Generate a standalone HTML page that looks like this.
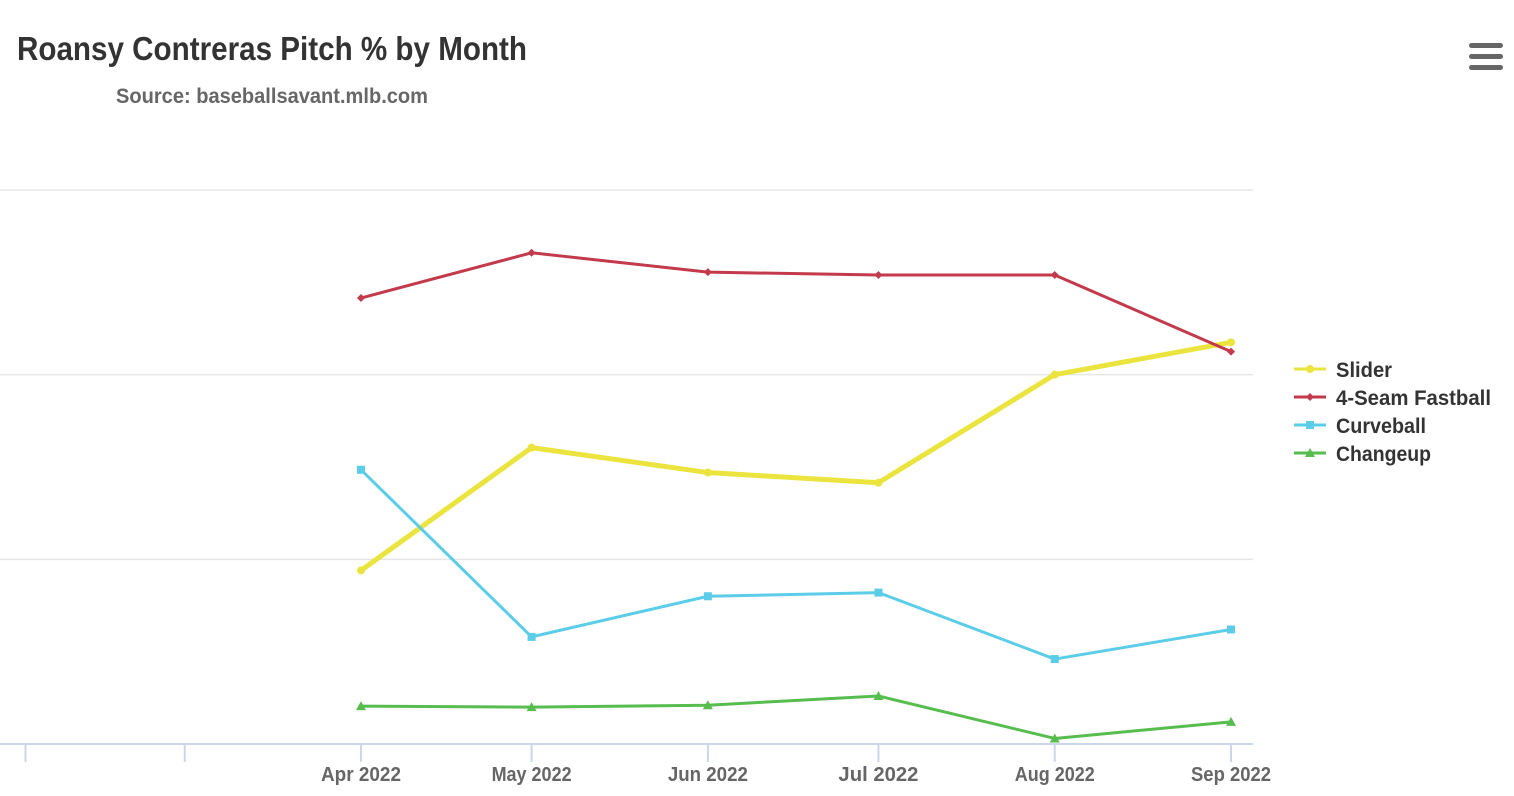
<!DOCTYPE html>
<html><head><meta charset="utf-8"><style>
html,body{margin:0;padding:0;background:#fff;width:1514px;height:796px;overflow:hidden}
svg{display:block}
text{font-family:"Liberation Sans Narrow","Liberation Sans",sans-serif;font-weight:bold}
</style></head><body>
<svg id="chart" width="1514" height="796">
<text x="17" y="60" font-size="33" fill="#333" textLength="510" lengthAdjust="spacingAndGlyphs">Roansy Contreras Pitch % by Month</text>
<text x="116" y="103" font-size="21" fill="#666" textLength="312" lengthAdjust="spacingAndGlyphs">Source: baseballsavant.mlb.com</text>
<g>
<rect x="1469" y="43" width="34" height="5" rx="2.5" fill="#666"/>
<rect x="1469" y="54" width="34" height="5" rx="2.5" fill="#666"/>
<rect x="1469" y="65" width="34" height="5" rx="2.5" fill="#666"/>
</g>
<g id="grid"></g><g id="axis"></g><g id="series"></g><g id="legend"></g>
</svg>
<script>
const months = ["Apr 2022","May 2022","Jun 2022","Jul 2022","Aug 2022","Sep 2022"];
const monthDays = [0,30,61,91,122,153]; // days since Apr 1
const extraTickDays = [-59,-31]; // Feb 1, Mar 1
const yTicks = [0,20,40,60];
const slider = [18.8,32.1,29.4,28.3,40.0,43.5];
const fastball = [48.3,53.2,51.1,50.8,50.8,42.5];
const curveball = [29.7,11.6,16.0,16.4,9.2,12.4];
const changeup = [4.1,4.0,4.2,5.2,0.6,2.4];
const seriesNames = ["Slider","4-Seam Fastball","Curveball","Changeup"];
const legendWidths = [56,155,90,95];

const NS="http://www.w3.org/2000/svg";
const x = d => 361 + d*(870/153);
const y = v => 744 - v*(554/60);
function mk(tag,attrs,parent){const e=document.createElementNS(NS,tag);for(const k in attrs)e.setAttribute(k,attrs[k]);parent.appendChild(e);return e;}
const grid=document.getElementById('grid'), axis=document.getElementById('axis'), sg=document.getElementById('series'), lg=document.getElementById('legend');
yTicks.forEach(t=>{ if(t===0) return;
  const l=mk('line',{x1:0,x2:1253,y1:y(t),y2:y(t),stroke:'#e6e6e6','stroke-width':1.5},grid);
  
  
});
const base=mk('line',{x1:0,x2:1253,y1:744,y2:744,stroke:'#ccd6eb','stroke-width':2},axis);


extraTickDays.concat(monthDays).forEach(d=>{
  const t=mk('line',{x1:x(d),x2:x(d),y1:744,y2:762,stroke:'#ccd6eb','stroke-width':2},axis);
  
  
});
months.forEach((m,i)=>{
  const t=mk('text',{x:x(monthDays[i]),y:781,'text-anchor':'middle','font-size':20,fill:'#666',textLength:80,lengthAdjust:'spacingAndGlyphs'},axis);
  t.textContent=m;
  
  
});
const defs=[[slider,'#ebe43f',5,'circle'],[fastball,'#c23a4b',3,'diamond'],[curveball,'#5bcde8',3,'square'],[changeup,'#57bd4f',3,'triangle']];
function marker(px,py,shape,col,parent){
  if(shape==='circle') return mk('circle',{cx:px,cy:py,r:4,fill:col},parent);
  if(shape==='diamond') return mk('path',{d:`M${px} ${py-4}L${px+4} ${py}L${px} ${py+4}L${px-4} ${py}Z`,fill:col},parent);
  if(shape==='square') return mk('rect',{x:px-4,y:py-4,width:8,height:8,fill:col},parent);
  return mk('path',{d:`M${px} ${py-5}L${px+5} ${py+4}L${px-5} ${py+4}Z`,fill:col},parent);
}
defs.forEach(([data,col,w,shape],si)=>{
  const g=mk('g',{},sg);
  
  
  const pts=data.map((v,i)=>x(monthDays[i])+','+y(v)).join(' ');
  const pl=mk('polyline',{points:pts,fill:'none',stroke:col,'stroke-width':w,'stroke-linejoin':'round'},g);
  
  
  data.forEach((v,i)=>{
    const m=marker(x(monthDays[i]),y(v),shape,col,g);
    
    
  });
  const ly=369+si*28;
  const lgg=mk('g',{},lg);
  
  
  mk('line',{x1:1294,x2:1326,y1:ly,y2:ly,stroke:col,'stroke-width':3},lgg);
  marker(1310,ly,shape,col,lgg);
  const t=mk('text',{x:1336,y:ly+8,'font-size':21,fill:'#333',textLength:legendWidths[si],lengthAdjust:'spacingAndGlyphs'},lgg);
  t.textContent=seriesNames[si];
});
</script>
</body></html>
